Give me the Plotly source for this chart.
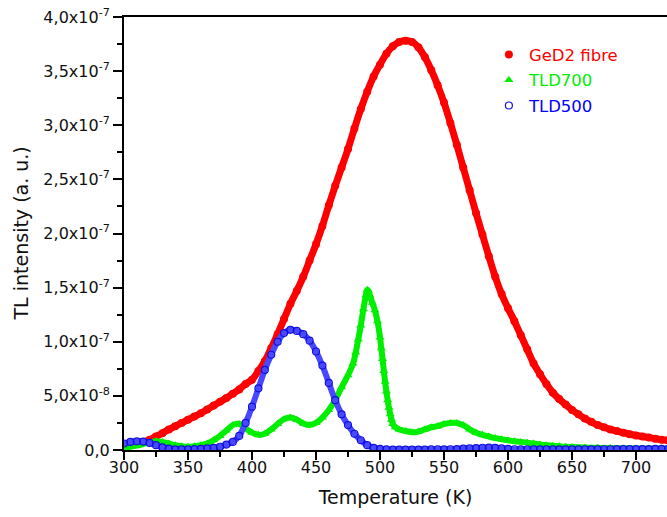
import plotly.graph_objects as go

# Temperature grid (K) for GeD2 fibre and TLD500 readings
T_GRID = list(range(300, 726, 5))

# TL intensity in units of 1e-7 (a.u.)
GED2_FIBRE = [
    0.04, 0.05, 0.06, 0.075, 0.095, 0.125, 0.155, 0.19, 0.22, 0.25,
    0.28, 0.31, 0.34, 0.375, 0.41, 0.445, 0.48, 0.52, 0.56, 0.61,
    0.65, 0.73, 0.82, 0.94, 1.07, 1.21, 1.35, 1.47, 1.60, 1.75,
    1.90, 2.07, 2.26, 2.44, 2.61, 2.78, 2.97, 3.15, 3.31, 3.45,
    3.56, 3.66, 3.73, 3.77, 3.78, 3.77, 3.72, 3.63, 3.51, 3.37,
    3.21, 3.02, 2.82, 2.61, 2.40, 2.19, 1.99, 1.79, 1.60, 1.44,
    1.31, 1.19, 1.06, 0.93, 0.80, 0.70, 0.61, 0.53, 0.47, 0.42,
    0.37, 0.33, 0.29, 0.26, 0.23, 0.21, 0.19, 0.175, 0.16, 0.145,
    0.135, 0.125, 0.115, 0.105, 0.095, 0.09,
]

TLD500 = [
    0.06, 0.075, 0.08, 0.078, 0.065, 0.045, 0.025, 0.012, 0.006, 0.005,
    0.006, 0.008, 0.01, 0.015, 0.02, 0.03, 0.05, 0.075, 0.13, 0.25,
    0.40, 0.57, 0.74, 0.88, 1.00, 1.08, 1.11, 1.10, 1.07, 1.01,
    0.91, 0.78, 0.62, 0.46, 0.33, 0.23, 0.15, 0.09, 0.045, 0.02,
    0.01, 0.006, 0.004, 0.004, 0.004, 0.004, 0.004, 0.004, 0.005, 0.005,
    0.006, 0.007, 0.009, 0.012, 0.015, 0.018, 0.021, 0.022, 0.02, 0.015,
    0.01, 0.007, 0.005, 0.005, 0.005, 0.005, 0.005, 0.005, 0.005, 0.005,
    0.005, 0.005, 0.005, 0.006, 0.006, 0.007, 0.007, 0.008, 0.008, 0.008,
    0.009, 0.009, 0.009, 0.01, 0.01, 0.01,
]

TLD700_T = [
    300, 305, 310, 315, 320, 325, 330, 335, 340, 345,
    350, 355, 360, 365, 370, 375, 380, 385, 390, 395,
    400, 405, 410, 415, 420, 425, 430, 435, 440, 445,
    450, 455, 460, 465, 470, 475, 479, 481, 483, 485,
    487, 489, 490, 491, 492, 494, 496, 498, 500, 501,
    502, 503, 504, 505, 506, 507, 508, 509, 510, 512,
    515, 520, 525, 530, 535, 540, 545, 550, 555, 560,
    565, 570, 575, 580, 585, 590, 595, 600, 605, 610,
    615, 620, 625, 630, 635, 640, 645, 650, 660, 670,
    680, 690, 700, 710, 720, 725,
]
TLD700 = [
    0.02, 0.03, 0.04, 0.055, 0.07, 0.08, 0.075, 0.06, 0.045, 0.035,
    0.03, 0.035, 0.045, 0.06, 0.09, 0.13, 0.18, 0.23, 0.24, 0.20,
    0.16, 0.14, 0.15, 0.19, 0.24, 0.285, 0.30, 0.28, 0.245, 0.23,
    0.25, 0.30, 0.37, 0.46, 0.58, 0.69, 0.80, 0.90, 1.02, 1.15,
    1.30, 1.43, 1.48, 1.47, 1.43, 1.36, 1.29, 1.19, 1.04, 0.94,
    0.84, 0.73, 0.63, 0.54, 0.46, 0.39, 0.33, 0.28, 0.24, 0.21,
    0.19, 0.175, 0.165, 0.17, 0.19, 0.21, 0.22, 0.24, 0.25, 0.25,
    0.23, 0.19, 0.16, 0.14, 0.125, 0.11, 0.10, 0.09, 0.08, 0.075,
    0.068, 0.06, 0.05, 0.045, 0.04, 0.035, 0.03, 0.028, 0.024, 0.02,
    0.018, 0.016, 0.015, 0.015, 0.015, 0.015,
]

UNIT = 1e-7
X_TICKS = [300, 350, 400, 450, 500, 550, 600, 650, 700]
Y_TICKS = [0, 0.5e-7, 1.0e-7, 1.5e-7, 2.0e-7, 2.5e-7, 3.0e-7, 3.5e-7, 4.0e-7]
Y_TICK_LABELS = ["0,0", "5,0x10<sup>-8</sup>", "1,0x10<sup>-7</sup>", "1,5x10<sup>-7</sup>",
                 "2,0x10<sup>-7</sup>", "2,5x10<sup>-7</sup>", "3,0x10<sup>-7</sup>",
                 "3,5x10<sup>-7</sup>", "4,0x10<sup>-7</sup>"]

RED, GREEN, BLUE = "#ff0000", "#00ee00", "#0000ff"
FONT = "DejaVu Sans"

ged2 = [v * UNIT for v in GED2_FIBRE]
tld700 = [v * UNIT for v in TLD700]
tld500 = [v * UNIT for v in TLD500]

fig = go.Figure()
fig.add_trace(go.Scatter(x=T_GRID, y=ged2, mode="lines", line=dict(color=RED, width=7, shape="spline"),
                         showlegend=False, hoverinfo="skip"))
fig.add_trace(go.Scatter(x=T_GRID, y=ged2, mode="markers", name=f'<span style="color:{RED}">GeD2 fibre</span>',
                         legendgroup="a", marker=dict(symbol="circle", size=8, color=RED)))
fig.add_trace(go.Scatter(x=TLD700_T, y=tld700, mode="lines", line=dict(color=GREEN, width=6, shape="spline"),
                         showlegend=False, hoverinfo="skip"))
fig.add_trace(go.Scatter(x=TLD700_T, y=tld700, mode="markers", name=f'<span style="color:{GREEN}">TLD700</span>',
                         legendgroup="b", marker=dict(symbol="triangle-up", size=8, color=GREEN)))
fig.add_trace(go.Scatter(x=T_GRID, y=tld500, mode="lines", line=dict(color="#4848ff", width=6, shape="spline"),
                         showlegend=False, hoverinfo="skip"))
fig.add_trace(go.Scatter(x=T_GRID, y=tld500, mode="markers", name=f'<span style="color:{BLUE}">TLD500</span>',
                         legendgroup="c",
                         marker=dict(symbol="circle-open", size=7, color="#1010e0", line=dict(width=1.2, color="#1010e0"))))

XR = [300, 724.2]
YR = [0, 4.0e-7]
tickfont = dict(family=FONT, size=16, color="#111111")
PLOT_W = 543

fig.update_layout(
    width=667, height=517,
    margin=dict(l=124, r=0, t=17, b=67, autoexpand=False),
    plot_bgcolor="white", paper_bgcolor="white",
    showlegend=True,
    legend=dict(x=0.672, y=0.953, xanchor="left", yanchor="top", bgcolor="rgba(0,0,0,0)",
                traceorder="grouped", tracegroupgap=1,
                font=dict(family=FONT, size=16.5)),
    xaxis=dict(range=XR, showline=True, linecolor="black", linewidth=2, mirror=True, automargin=False,
               ticks="outside", ticklen=8, tickwidth=2, tickcolor="black",
               tickvals=X_TICKS, tickfont=tickfont, ticklabelstandoff=-6, ticklabeloverflow="allow",
               minor=dict(ticks="outside", ticklen=5, tickwidth=2, tickcolor="black", tick0=300, dtick=25),
               showgrid=False, zeroline=False,
               title=dict(text="Temperature (K)", standoff=14,
                          font=dict(family=FONT, size=19, color="#111111"))),
    yaxis=dict(range=YR, showline=True, linecolor="black", linewidth=2, mirror=True, automargin=False,
               ticks="outside", ticklen=9, tickwidth=2, tickcolor="black",
               tickvals=Y_TICKS, ticktext=Y_TICK_LABELS, tickfont=tickfont, ticklabeloverflow="allow",
               minor=dict(ticks="outside", ticklen=5, tickwidth=2, tickcolor="black", tick0=0, dtick=0.25e-7),
               showgrid=False, zeroline=False),
    xaxis2=dict(range=XR, overlaying="x", side="top", showline=False, showgrid=False, zeroline=False,
                automargin=False,
                ticks="inside", ticklen=8, tickwidth=2, tickcolor="black", tickvals=X_TICKS,
                showticklabels=False,
                minor=dict(ticks="inside", ticklen=4, tickwidth=2, tickcolor="black", tick0=300, dtick=25)),
    yaxis2=dict(range=YR, overlaying="y", side="right", showline=False, showgrid=False, zeroline=False,
                automargin=False,
                ticks="inside", ticklen=8, tickwidth=2, tickcolor="black", tickvals=Y_TICKS,
                showticklabels=False,
                minor=dict(ticks="inside", ticklen=4, tickwidth=2, tickcolor="black", tick0=0, dtick=0.25e-7)),
    annotations=[dict(text="TL intensity (a. u.)", xref="paper", yref="paper",
                      x=-(124 - 20) / PLOT_W, y=0.5, textangle=-90, showarrow=False,
                      xanchor="center", yanchor="middle",
                      font=dict(family=FONT, size=19, color="#111111"))],
)

# remove the default 8px page margin so the 667x517 figure fills the window
fig.write_html("out.html", config={"displayModeBar": False},
               post_script="document.body.style.margin='0';")
